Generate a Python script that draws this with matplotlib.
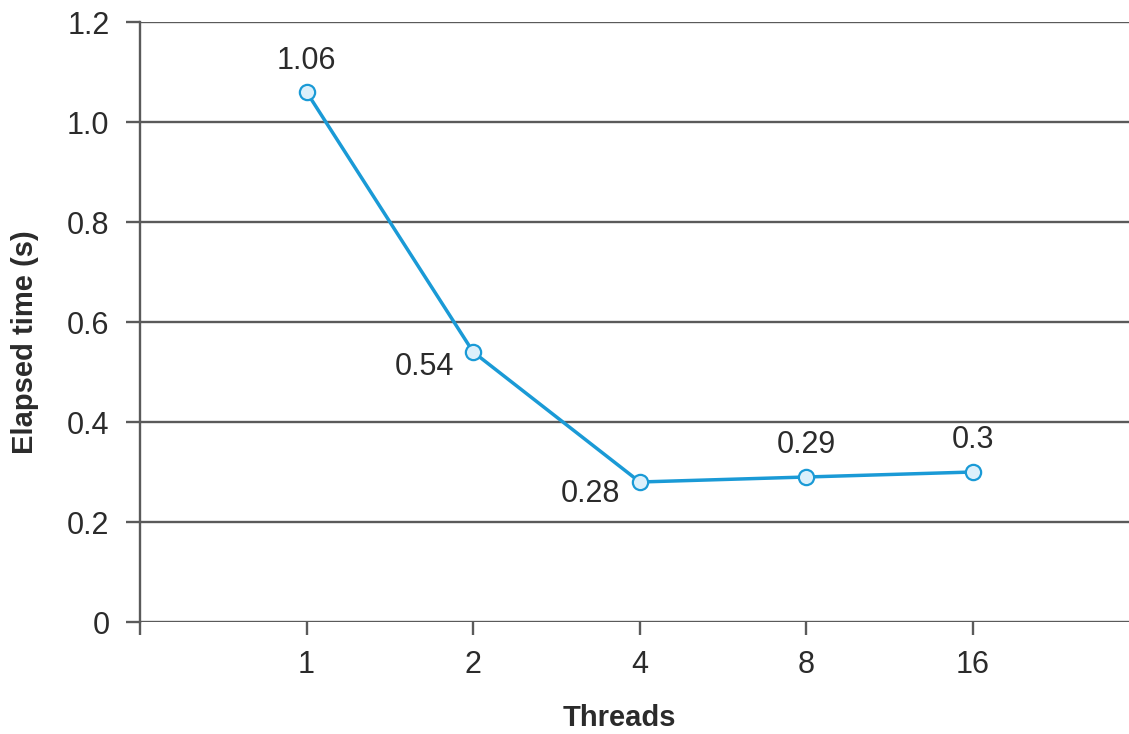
import matplotlib.pyplot as plt

plt.rcParams['font.family'] = ['Liberation Sans', 'DejaVu Sans']

threads = ['1', '2', '4', '8', '16']
elapsed = [1.06, 0.54, 0.28, 0.29, 0.30]
value_labels = ['1.06', '0.54', '0.28', '0.29', '0.3']

line_color = '#1a9ad6'
grid_color = '#5a5a5a'
text_color = '#2b2b2b'

fig = plt.figure(figsize=(11.29, 7.34), dpi=100)
ax = fig.add_axes([140 / 1129, 1 - 622 / 734, 1 - 140 / 1129, 600 / 734])

xs = list(range(1, len(threads) + 1))
ax.plot(xs, elapsed, color=line_color, lw=2.5, marker='o', markersize=11,
        markerfacecolor='#dcf0fb', markeredgecolor=line_color, markeredgewidth=1.6,
        zorder=3)

# label placement per point: (dx, dy) in points, horizontal alignment
offsets = [((0, 22), 'center'), ((-14, -11), 'right'), ((-14, -9), 'right'),
           ((0, 23), 'center'), ((0, 23), 'center')]
for x, y, lab, (off, ha) in zip(xs, elapsed, value_labels, offsets):
    ax.annotate(lab, (x, y), xytext=off, textcoords='offset points',
                ha=ha, va='center', fontsize=22, color=text_color)

ax.set_xlim(0, (1129 - 140) / 166.6)
ax.set_ylim(0, 1.2)
ax.set_xticks([0] + xs)
ax.set_xticklabels([''] + threads)
ax.set_yticks([0, 0.2, 0.4, 0.6, 0.8, 1.0, 1.2])
ax.set_yticklabels(['0', '0.2', '0.4', '0.6', '0.8', '1.0', '1.2'])
ax.yaxis.grid(True, color=grid_color, lw=1.7)
ax.set_axisbelow(True)

for s in ['top', 'right', 'bottom']:
    ax.spines[s].set_visible(False)
ax.spines['left'].set_color(grid_color)
ax.spines['left'].set_linewidth(1.7)

ax.tick_params(axis='y', length=10, width=1.7, color=grid_color, pad=12,
               labelsize=22, labelcolor=text_color)
ax.tick_params(axis='x', length=9, width=1.7, color=grid_color, pad=11,
               labelsize=22, labelcolor=text_color)

fig.text(25 / 1129, 1 - 342 / 734, 'Elapsed time (s)', rotation=90, ha='center',
         va='center', fontsize=21, fontweight='bold', color=text_color)
fig.text(619 / 1129, 1 - 718 / 734, 'Threads', ha='center', va='center',
         fontsize=21, fontweight='bold', color=text_color)

fig.savefig('out.png', dpi=100)
